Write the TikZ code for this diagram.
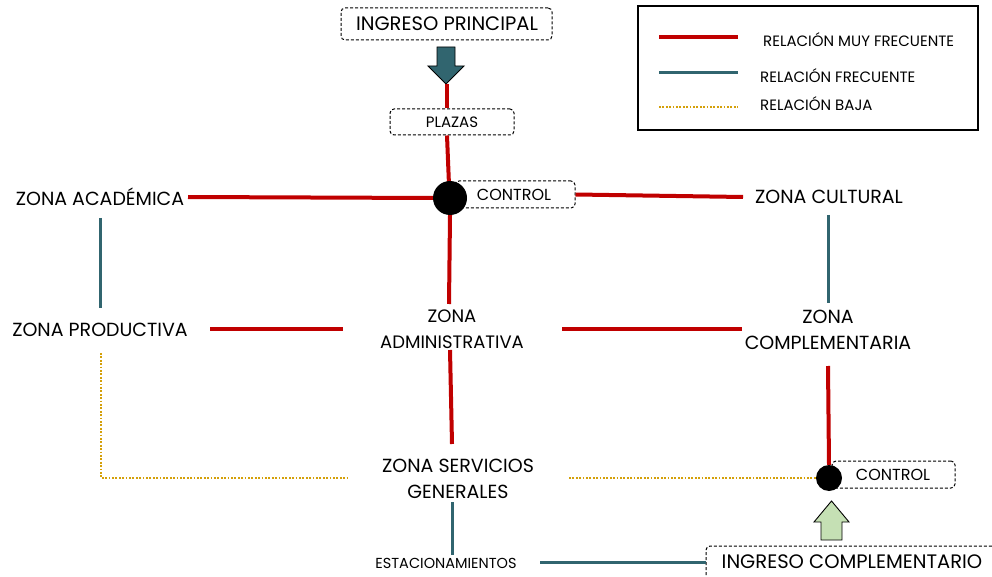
\documentclass[tikz,border=0pt]{standalone}
\usepackage{fontspec}
\setmainfont{Poppins}
\definecolor{vred}{HTML}{C00000}
\definecolor{vteal}{HTML}{31656F}
\definecolor{vgold}{HTML}{D4A00A}
\definecolor{vgreen}{HTML}{C5E0B4}
\begin{document}
\begin{tikzpicture}[x=1pt,y=-1pt,
  lbl/.style={font=\fontsize{19}{21}\selectfont, align=center, inner sep=1pt},
  lbl2/.style={font=\fontsize{19}{25.5}\selectfont, align=center, inner sep=1pt},
  big/.style={font=\fontsize{19.5}{21}\selectfont, inner sep=1pt},
  sml/.style={font=\fontsize{15}{17}\selectfont, inner sep=1pt},
  ctl/.style={font=\fontsize{16}{18}\selectfont, inner sep=1pt},
  leg/.style={font=\fontsize{15}{17}\selectfont, inner sep=1pt, anchor=west},
  dbox/.style={draw, dash pattern=on 3pt off 2pt, rounded corners=4pt, line width=1pt, inner sep=0pt},
  muy/.style={draw=vred, line width=4pt},
  fre/.style={draw=vteal, line width=3pt},
  baja/.style={draw=vgold, line width=2.2pt, dash pattern=on 1.8pt off 1.6pt},
  dot/.style={circle, fill=black, inner sep=0pt}
]
\useasboundingbox (0,0) rectangle (992,577);
\clip (0,0) rectangle (992,577);

% legend
\node[draw, line width=1.2pt, minimum width=340pt, minimum height=124pt, inner sep=0pt] (legend) at (808,68) {};
\coordinate (l1a) at (659,37); \coordinate (l1b) at (738,37);
\coordinate (l2a) at (659,73); \coordinate (l2b) at (738,73);
\coordinate (l3a) at (659,107); \coordinate (l3b) at (738,107);
\draw[muy] (l1a) -- (l1b);
\draw[fre] (l2a) -- (l2b);
\draw[baja] (l3a) -- (l3b);
\node[leg] (t1) at (762,40) {RELACIÓN MUY FRECUENTE};
\node[leg] (t2) at (759,76) {RELACIÓN FRECUENTE};
\node[leg] (t3) at (759,104) {RELACIÓN BAJA};

% top entry
\node[dbox, minimum width=211pt, minimum height=32pt] (ip) at (446.5,24) {};
\node[big] (iptext) at (447,24) {INGRESO PRINCIPAL};
\draw[fill=vteal, line width=0.9pt] (437,47) -- (455,47) -- (455,66) -- (464,66) -- (446,84) -- (428,66) -- (437,66) -- cycle;
\coordinate (arrtip) at (447,84);

\node[dbox, minimum width=124pt, minimum height=26pt] (plazas) at (452,122) {};
\node[sml] (plazastext) at (452,122) {PLAZAS};

\node[dbox, minimum width=120pt, minimum height=27pt] (ctl1) at (515,194.5) {};
\node[ctl] (ctl1text) at (514,195) {CONTROL};

\draw[muy] (arrtip) -- (plazas.north -| arrtip);
\draw[muy] (plazas.south -| arrtip) -- (449,185);

% zone labels
\node[lbl] (acad) at (100,197) {ZONA ACADÉMICA};
\node[lbl] (cult) at (829,197) {ZONA CULTURAL};
\node[lbl] (prod) at (100,330) {ZONA PRODUCTIVA};
\node[lbl2, font=\fontsize{18}{25.5}\selectfont] (admin) at (452,329) {ZONA\\ADMINISTRATIVA};
\node[lbl2] (compl) at (828,330) {ZONA\\COMPLEMENTARIA};
\node[lbl2] (serv) at (458,479) {ZONA SERVICIOS\\GENERALES};
\node[font=\fontsize{14.5}{16}\selectfont, inner sep=1pt] (estac) at (446,563) {ESTACIONAMIENTOS};

\node[dot, minimum size=34pt] (c1) at (450,198) {};

% red connections
\coordinate (acadE) at (188,197);
\draw[muy] (acadE) -- (c1.west);
\draw[muy] (ctl1.east) -- (743,197) coordinate (cultw);
\draw[muy] (c1.south) -- (449,304) coordinate (adminN);
\coordinate (prodE) at (210,329);
\coordinate (adminW) at (343,329);
\draw[muy] (prodE) -- (adminW);
\coordinate (adminE) at (562,329);
\coordinate (complW) at (742,329);
\draw[muy] (adminE) -- (complW);
\coordinate (adminS) at (450,350);
\coordinate (servN) at (452,444);
\draw[muy] (adminS) -- (servN);

% teal
\draw[fre] (100,218) coordinate (acadS) -- (100,308) coordinate (prodN);
\draw[fre] (828,215) coordinate (cultS) -- (828,303) coordinate (complN);
\draw[fre] (452,502) coordinate (servS) -- (452,555) coordinate (estacN);

% lower right
\node[dbox, minimum width=123pt, minimum height=27pt] (ctl2) at (893.5,474.5) {};
\node[ctl] (ctl2text) at (893,475) {CONTROL};
\node[dot, minimum size=26pt] (c2) at (829,478) {};
\draw[muy] (828,366) coordinate (complS) -- (c2.north);

% dotted
\coordinate (prodS) at (101,353);
\coordinate (corner) at (101,478);
\coordinate (servW) at (347,478);
\draw[baja] (prodS) -- (corner) -- (servW);
\coordinate (servE) at (569,478);
\draw[baja] (servE) -- (c2.west);

% green arrow
\draw[fill=vgreen, line width=0.9pt] (821,540) -- (842,540) -- (842,522) -- (849,522) -- (831.5,501) -- (814,522) -- (821,522) -- cycle;

% ingreso complementario
\draw[dash pattern=on 3pt off 2pt, rounded corners=4pt, line width=1pt] (706,600) -- (706,546) -- (1010,546);
\node[big] (ic) at (852,562) {INGRESO COMPLEMENTARIO};
\coordinate (icW) at (706,562);
\draw[fre] (540,562) coordinate (estacE) -- (icW);
\end{tikzpicture}
\end{document}
